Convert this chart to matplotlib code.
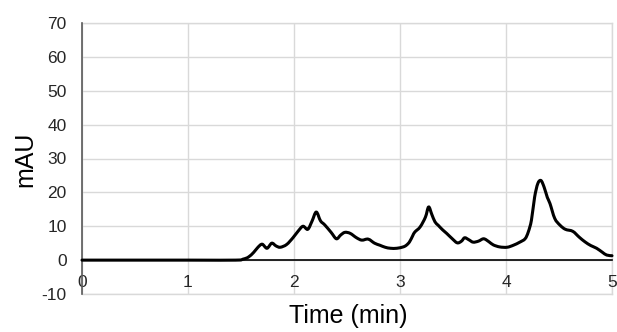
import matplotlib
matplotlib.use("Agg")
import matplotlib.pyplot as plt
from matplotlib.path import Path
from matplotlib.patches import PathPatch

# Chromatogram trace: retention time (min) vs. absorbance (mAU)
time_min = [0.0, 1.0, 1.45, 1.52, 1.57, 1.62, 1.66, 1.70, 1.745, 1.79, 1.83, 1.87,
            1.93, 1.99, 2.04, 2.085, 2.13, 2.17, 2.21, 2.25, 2.29, 2.35, 2.40, 2.44,
            2.48, 2.53, 2.59, 2.64, 2.70, 2.76, 2.81, 2.86, 2.91, 2.97, 3.03, 3.06,
            3.09, 3.12, 3.14, 3.19, 3.24, 3.27, 3.30, 3.33, 3.36, 3.40, 3.44, 3.49,
            3.54, 3.58, 3.61, 3.65, 3.69, 3.74, 3.79, 3.84, 3.88, 3.94, 4.01, 4.07,
            4.13, 4.18, 4.21, 4.24, 4.27, 4.30, 4.33, 4.36, 4.39, 4.415, 4.46, 4.51,
            4.56, 4.63, 4.69, 4.745, 4.80, 4.855, 4.91, 4.95, 5.0]
absorbance = [0.0, 0.0, 0.0, 0.3, 0.9, 2.3, 3.8, 4.7, 3.5, 5.0, 4.2, 3.8,
              4.6, 6.6, 8.6, 10.0, 9.1, 11.5, 14.2, 11.6, 10.4, 8.2, 6.3, 7.4,
              8.2, 7.9, 6.6, 5.9, 6.2, 5.0, 4.4, 3.8, 3.5, 3.5, 3.9, 4.4,
              5.4, 7.2, 8.3, 9.8, 12.7, 15.7, 13.5, 11.3, 10.3, 9.0, 7.9, 6.4,
              5.1, 5.6, 6.6, 6.0, 5.3, 5.6, 6.3, 5.4, 4.5, 3.9, 3.8, 4.4,
              5.3, 6.3, 8.3, 11.8, 18.6, 22.6, 23.5, 21.5, 18.5, 16.7, 12.3, 10.3,
              9.1, 8.5, 6.8, 5.4, 4.3, 3.5, 2.3, 1.5, 1.3]

x_ticks = [0, 1, 2, 3, 4, 5]
y_ticks = [-10, 0, 10, 20, 30, 40, 50, 60, 70]

plt.rcParams["font.family"] = ["Liberation Sans", "DejaVu Sans"]


def smooth_path(xs, ys, tension=1 / 6):
    """Catmull-Rom style cubic Bezier path through every (x, y) point."""
    verts = [(xs[0], ys[0])]
    codes = [Path.MOVETO]
    n = len(xs)
    for i in range(n - 1):
        x0, y0 = (xs[i - 1], ys[i - 1]) if i > 0 else (xs[i], ys[i])
        x1, y1 = xs[i], ys[i]
        x2, y2 = xs[i + 1], ys[i + 1]
        x3, y3 = (xs[i + 2], ys[i + 2]) if i + 2 < n else (x2, y2)
        c1 = (x1 + (x2 - x0) * tension, y1 + (y2 - y0) * tension)
        c2 = (x2 - (x3 - x1) * tension, y2 - (y3 - y1) * tension)
        verts += [c1, c2, (x2, y2)]
        codes += [Path.CURVE4, Path.CURVE4, Path.CURVE4]
    return Path(verts, codes)


fig = plt.figure(figsize=(6.17, 3.32), dpi=100)
ax = fig.add_axes([82 / 617, 1 - 294 / 332, 530 / 617, 271 / 332])

ax.set_xlim(0, 5)
ax.set_ylim(-10, 70)
ax.set_xticks(x_ticks)
ax.set_yticks(y_ticks)
ax.set_xticklabels([str(t) for t in x_ticks])
ax.set_yticklabels([str(t) for t in y_ticks])

grid_color = "#d9d9d9"
ax.grid(True, color=grid_color, linewidth=1.0)
ax.set_axisbelow(True)

for side in ("top", "right"):
    ax.spines[side].set_visible(False)
ax.spines["left"].set_color("#595959")
ax.spines["left"].set_linewidth(1.2)
ax.spines["bottom"].set_position(("data", 0))
ax.spines["bottom"].set_color("black")
ax.spines["bottom"].set_linewidth(1.2)
ax.spines["bottom"].set_zorder(1)

# outer grid edges at the data limits
ax.axhline(70, color=grid_color, linewidth=1.0, zorder=0, clip_on=False)
ax.axhline(-10, color=grid_color, linewidth=1.0, zorder=0, clip_on=False)
ax.axvline(5, color=grid_color, linewidth=1.0, zorder=0, clip_on=False)

ax.tick_params(axis="both", length=0, labelsize=12.5, labelcolor="#262626")
ax.tick_params(axis="x", pad=10.5)
ax.tick_params(axis="y", pad=11)

trace = PathPatch(smooth_path(time_min, absorbance), facecolor="none",
                  edgecolor="black", linewidth=2.2, joinstyle="round",
                  capstyle="round", zorder=3, clip_on=False)
ax.add_patch(trace)

fig.text(348 / 617, 1 - 323 / 332, "Time (min)", fontsize=18,
         ha="center", va="baseline", color="black")
fig.text(32 / 617, 1 - 159.5 / 332, "mAU", fontsize=18, rotation=90,
         rotation_mode="anchor", ha="center", va="baseline", color="black")

fig.savefig("out.png", dpi=100)
